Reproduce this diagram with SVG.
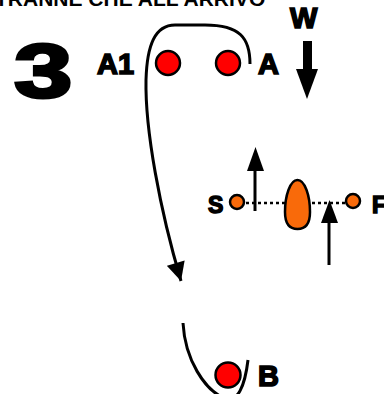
<svg xmlns="http://www.w3.org/2000/svg" width="384" height="394" viewBox="0 0 384 394">
<style>
.t{font-family:"Liberation Sans",Arial,sans-serif;font-weight:bold;fill:#000}
.lbl{font-size:29px;stroke:#000;stroke-width:1.6px}
.sm{font-size:23px;stroke:#000;stroke-width:1.5px}
.red{fill:#ff0000;stroke:#000;stroke-width:2.5}
.org{fill:#f96a0a;stroke:#000;stroke-width:2.5}
.ln{fill:none;stroke:#000;stroke-width:3;stroke-linecap:butt}
</style>
<defs>
<marker id="ah" viewBox="0 0 10 10" refX="10" refY="5" markerWidth="7" markerHeight="6.2" orient="auto" markerUnits="strokeWidth">
<path d="M0,0 L10,5 L0,10 Z" fill="#000"/>
</marker>
</defs>
<rect width="384" height="394" fill="#fff"/>
<text class="t" x="-5" y="6" font-size="21">TRANNE CHE ALL'ARRIVO</text>
<g id="num3"><text class="t" transform="translate(14 97) scale(1.38 1)" font-size="76" stroke="#000" stroke-width="3">3</text></g>
<g id="connectors">
<path class="ln" d="M250,64 C250,38 240,25 205,25 L175,25 C155,25 147,45 146,80 C145,130 160,210 181,281" marker-end="url(#ah)"/>
<path class="ln" d="M183,323 C185,360 205,390 224,398 C238,404 245,385 248,360"/>
<line x1="246" y1="203" x2="346" y2="203" stroke="#000" stroke-width="2.5" stroke-dasharray="3 3"/>
<path d="M307.5,41 V70" stroke="#000" stroke-width="9"/>
<path d="M296,69 L318,69 L307,99 Z" fill="#000"/>
<line x1="255" y1="211" x2="255" y2="168" stroke="#000" stroke-width="3"/>
<path d="M247,171 L264,171 L255.5,147 Z" fill="#000"/>
<line x1="329" y1="265" x2="329" y2="220" stroke="#000" stroke-width="3"/>
<path d="M321,223 L338,223 L329.5,200 Z" fill="#000"/>
</g>
<g id="A1"><circle class="red" cx="168" cy="63" r="12"/><text class="t lbl" x="97" y="74">A1</text></g>
<g id="A"><circle class="red" cx="228" cy="63" r="12"/><text class="t lbl" x="258" y="74">A</text></g>
<g id="W"><text class="t lbl" x="290" y="28">W</text></g>
<g id="S"><circle class="org" cx="237" cy="202" r="7"/><text class="t sm" x="208" y="213">S</text></g>
<g id="F"><circle class="org" cx="353" cy="201" r="7"/><text class="t sm" x="372" y="213">F</text></g>
<g id="boat"><path class="org" d="M297.5,180 C305,180 310,196 310,212 C310,224 305,229 297.5,229 C290,229 285,224 285,212 C285,196 290,180 297.5,180 Z"/></g>
<g id="B"><circle class="red" cx="228" cy="375" r="12.5"/><text class="t lbl" x="258" y="386">B</text></g>
</svg>
